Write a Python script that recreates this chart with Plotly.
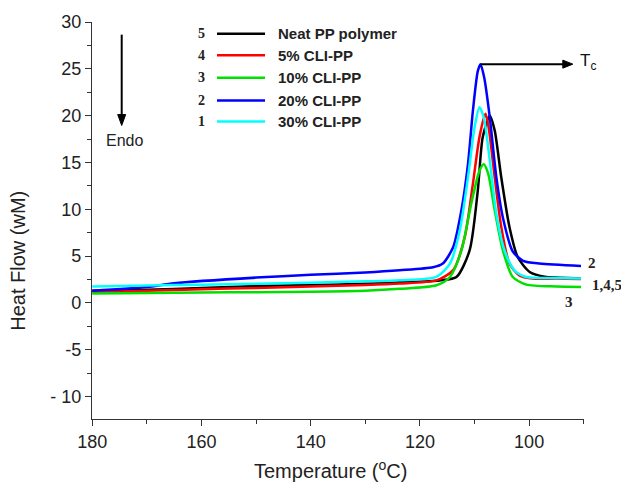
import plotly.graph_objects as go

# ---------------- data ----------------
temp_neat = [180, 170, 160, 150, 140, 130, 123.7, 116.4, 113.3, 110.9, 109.4, 108.5, 107.2, 106.3, 105.1, 103.6, 102.1, 99.9, 96.9, 95.1, 90.5]
hf_neat = [1.3, 1.4, 1.6, 1.8, 1.9, 2.05, 2.2, 2.4, 2.77, 5.6, 12.0, 17.7, 20.0, 18.4, 13.4, 8.1, 4.9, 3.3, 2.77, 2.7, 2.6]

temp_5 = [180, 170, 160, 150, 140, 130, 123.7, 117.0, 113.9, 111.8, 110.3, 109.1, 108.0, 107.4, 106.3, 105.1, 103.6, 101.8, 99.3, 95.1, 90.5]
hf_5 = [1.15, 1.3, 1.45, 1.6, 1.75, 1.9, 2.06, 2.4, 3.5, 7.0, 12.7, 17.7, 20.2, 18.7, 13.4, 8.1, 4.2, 2.94, 2.6, 2.6, 2.55]

temp_10 = [180, 170, 160, 150, 140, 130, 123.7, 117.0, 114.5, 112.4, 110.6, 109.1, 108.3, 107.5, 106.3, 104.8, 103.0, 100.5, 95.0, 90.5]
hf_10 = [1.0, 1.05, 1.1, 1.15, 1.2, 1.3, 1.5, 1.88, 2.77, 5.6, 10.6, 14.1, 14.8, 13.8, 9.9, 5.6, 2.77, 1.95, 1.75, 1.7]

temp_20 = [180, 170, 165, 150, 140, 130, 123.7, 117.6, 115.8, 113.9, 112.4, 111.2, 110.3, 109.4, 108.9, 108.2, 107.2, 106.0, 104.8, 103.0, 101.1, 98.1, 90.5]
hf_20 = [1.3, 1.7, 2.1, 2.7, 3.0, 3.25, 3.48, 3.8, 4.2, 5.96, 9.9, 14.8, 20.5, 24.75, 25.5, 24.0, 19.8, 13.4, 9.1, 5.5, 4.5, 4.2, 3.95]

temp_30 = [180, 170, 160, 150, 140, 130, 123.7, 117.0, 114.5, 112.7, 111.2, 110.0, 109.1, 108.3, 107.2, 106.0, 104.5, 102.7, 100.5, 95.0, 90.5]
hf_30 = [1.75, 1.85, 1.95, 2.05, 2.15, 2.3, 2.41, 2.77, 4.2, 7.73, 13.4, 18.7, 20.9, 19.8, 15.2, 9.5, 5.6, 3.48, 2.77, 2.65, 2.6]

series_names = ["Neat PP polymer", "5% CLI-PP", "10% CLI-PP", "20% CLI-PP", "30% CLI-PP"]
series_numbers = ["5", "4", "3", "2", "1"]
series_colors = ["#000000", "#ff0000", "#00e000", "#0000ff", "#00ffff"]

y_ticks = [-10, -5, 0, 5, 10, 15, 20, 25, 30]
x_ticks = [180, 160, 140, 120, 100]
tc_arrow_end_temp = 92.0  # where the Tc arrow points (°C)

# ---------------- layout geometry (pixels) ----------------
W, H = 621, 488
L, R, T, B = 92, 584, 20, 419


def px(x):
    return (x - L) / (R - L)


def py(y):
    return (B - y) / (B - T)


fig = go.Figure()
series = [(temp_neat, hf_neat), (temp_5, hf_5), (temp_10, hf_10), (temp_20, hf_20), (temp_30, hf_30)]
for (tx, hy), name, col in zip(series, series_names, series_colors):
    fig.add_trace(go.Scatter(x=tx, y=hy, mode="lines", name=name,
                             line=dict(color=col, width=2.5, shape="spline", smoothing=0.7),
                             showlegend=False))

font_main = "Arial, Liberation Sans, sans-serif"
font_serif = "Times New Roman, Liberation Serif, serif"

annotations = []
shapes = []

# manual legend
row_y = [31.7, 53.3, 76, 99, 120]
for yy, num, name, col in zip(row_y, series_numbers, series_names, series_colors):
    annotations.append(dict(x=px(201), y=py(yy), xref="paper", yref="paper", text="<b>%s</b>" % num,
                            showarrow=False, xanchor="center", yanchor="middle",
                            font=dict(family=font_serif, size=14, color="#222")))
    shapes.append(dict(type="line", xref="paper", yref="paper", x0=px(217), x1=px(265),
                       y0=py(yy), y1=py(yy), line=dict(color=col, width=2.5)))
    annotations.append(dict(x=px(276), y=py(yy), xref="paper", yref="paper", text="<b>%s</b>" % name,
                            showarrow=False, xanchor="left", yanchor="middle",
                            font=dict(family=font_main, size=15, color="#222")))

# right-side curve labels
for txt, xx, yy in [("2", 586, 262), ("1,4,5", 590, 284), ("3", 563, 301)]:
    annotations.append(dict(x=px(xx), y=py(yy), xref="paper", yref="paper", text="<b>%s</b>" % txt,
                            showarrow=False, xanchor="left", yanchor="middle",
                            font=dict(family=font_serif, size=15, color="#222")))

# Tc arrow from the 20% peak (line + arrowhead)
peak_i = hf_20.index(max(hf_20))
peak_t, peak_h = temp_20[peak_i], hf_20[peak_i]
shapes.append(dict(type="line", xref="x", yref="y", x0=peak_t, y0=peak_h,
                   x1=tc_arrow_end_temp + 1.2, y1=peak_h, line=dict(color="#000", width=2)))
shapes.append(dict(type="path", xref="x", yref="y", xsizemode="pixel", ysizemode="pixel",
                   xanchor=tc_arrow_end_temp, yanchor=peak_h,
                   path="M 0 0 L -10 4 L -10 -4 Z", fillcolor="#000", line=dict(color="#000", width=1)))
annotations.append(dict(x=px(578), y=py(60), xref="paper", yref="paper", text="T<sub>c</sub>",
                        showarrow=False, xanchor="left", yanchor="middle",
                        font=dict(family=font_main, size=17, color="#111")))

# Endo arrow
shapes.append(dict(type="line", xref="paper", yref="paper", x0=px(121.7), x1=px(121.7),
                   y0=py(32.7), y1=py(116), line=dict(color="#000", width=2)))
shapes.append(dict(type="path", xref="paper", yref="paper",
                   path="M %f %f L %f %f L %f %f Z" % (px(121.7), py(124), px(117.7), py(113),
                                                      px(125.7), py(113)),
                   fillcolor="#000", line=dict(color="#000", width=1)))
annotations.append(dict(x=px(124), y=py(139), xref="paper", yref="paper", text="Endo",
                        showarrow=False, xanchor="center", yanchor="middle",
                        font=dict(family=font_main, size=16, color="#222")))

# axis titles
annotations.append(dict(x=px(18), y=py(260), xref="paper", yref="paper", text="Heat Flow (wM)",
                        showarrow=False, textangle=-90, xanchor="center", yanchor="middle",
                        font=dict(family=font_main, size=20, color="#222")))
annotations.append(dict(x=px(330), y=py(470), xref="paper", yref="paper",
                        text="Temperature (<sup>o</sup>C)",
                        showarrow=False, xanchor="center", yanchor="middle",
                        font=dict(family=font_main, size=20, color="#222")))

fig.update_layout(
    width=W, height=H,
    margin=dict(l=L, r=W - R, t=T, b=H - B, pad=0),
    paper_bgcolor="white", plot_bgcolor="white",
    showlegend=False,
    annotations=annotations, shapes=shapes,
    xaxis=dict(range=[180.05, 89.95], tickmode="array", tickvals=x_ticks,
               ticktext=[str(v) for v in x_ticks],
               showline=True, linecolor="#333", linewidth=1.2, ticks="outside", ticklen=6,
               tickwidth=1.2, tickcolor="#333", showgrid=False, zeroline=False,
               tickfont=dict(family=font_main, size=18, color="#222"),
               minor=dict(dtick=10, tick0=0, ticks="outside",
                          ticklen=4, tickwidth=1.2, tickcolor="#333", showgrid=False)),
    yaxis=dict(range=[-12.4, 30], tickmode="array", tickvals=y_ticks,
               ticktext=[("- 10" if v == -10 else str(v)) for v in y_ticks],
               showline=True, linecolor="#333", linewidth=1.2, ticks="outside", ticklen=6,
               tickwidth=1.2, tickcolor="#333", showgrid=False, zeroline=False,
               tickfont=dict(family=font_main, size=18, color="#222"),
               minor=dict(dtick=2.5, tick0=0, ticks="outside", ticklen=4, tickwidth=1.2,
                          tickcolor="#333", showgrid=False)),
)

fig.write_html("out.html")
